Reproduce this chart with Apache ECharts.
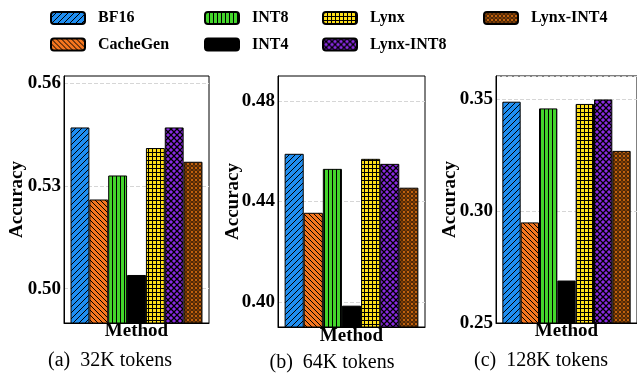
<!DOCTYPE html>
<html>
<head>
<meta charset="utf-8">
<script src="https://cdn.jsdelivr.net/npm/echarts@6/dist/echarts.min.js"></script>
<style>html,body{margin:0;padding:0;background:#fff;}#c{width:637px;height:375px;}</style>
</head>
<body>
<div id="c"></div>
<script>
// ---- data ----
const categories = ['Method'];
const methods = ['BF16', 'CacheGen', 'INT8', 'INT4', 'Lynx', 'Lynx-INT8', 'Lynx-INT4'];
// values per panel: [32K, 64K, 128K]
const BF16      = [0.547, 0.459, 0.349];
const CacheGen  = [0.526, 0.4355, 0.295];
const INT8      = [0.533, 0.453, 0.346];
const INT4      = [0.504, 0.3985, 0.269];
const Lynx      = [0.541, 0.457, 0.348];
const LynxINT8  = [0.547, 0.455, 0.350];
const LynxINT4  = [0.537, 0.4455, 0.327];
const seriesValues = [BF16, CacheGen, INT8, INT4, Lynx, LynxINT8, LynxINT4];
const captions = ['(a)  32K tokens', '(b)  64K tokens', '(c)  128K tokens'];
const yMins = [0.49, 0.39, 0.25];
const yMaxs = [0.562, 0.49, 0.3605];
const yIntervals = [0.01, 0.01, 0.05];
const yTickLabels = [['0.50', '0.53', '0.56'], ['0.40', '0.44', '0.48'], ['0.25', '0.30', '0.35']];

// ---- patterns ----
function pat(bg, size, draw) {
  const c = document.createElement('canvas');
  c.width = size; c.height = size;
  const ctx = c.getContext('2d');
  ctx.fillStyle = bg; ctx.fillRect(0, 0, size, size);
  ctx.strokeStyle = '#000'; ctx.fillStyle = '#000'; ctx.lineWidth = 1;
  draw(ctx, size);
  return { image: c, repeat: 'repeat' };
}
function diagUp(ctx, s) {
  ctx.beginPath();
  ctx.moveTo(-1, s + 1); ctx.lineTo(s + 1, -1);
  ctx.moveTo(-1, 1); ctx.lineTo(1, -1);
  ctx.moveTo(s - 1, s + 1); ctx.lineTo(s + 1, s - 1);
  ctx.stroke();
}
function diagDown(ctx, s) {
  ctx.beginPath();
  ctx.moveTo(-1, -1); ctx.lineTo(s + 1, s + 1);
  ctx.moveTo(s - 1, -1); ctx.lineTo(s + 1, 1);
  ctx.moveTo(-1, s - 1); ctx.lineTo(1, s + 1);
  ctx.stroke();
}
const fills = [
  pat('#1f8ef1', 6, (ctx, s) => diagUp(ctx, s)),
  pat('#f5761f', 5, (ctx, s) => diagDown(ctx, s)),
  pat('#44d62c', 4, (ctx, s) => { ctx.fillRect(0, 0, 1, s); }),
  '#000000',
  pat('#ffe01a', 4, (ctx, s) => { ctx.fillRect(0, 0, 1, s); ctx.fillRect(0, 0, s, 1); }),
  pat('#8a2be2', 6, (ctx, s) => { ctx.lineWidth = 1.3; diagUp(ctx, s); diagDown(ctx, s); }),
  pat('#c8650f', 4, (ctx, s) => { ctx.lineWidth = 0.8; ctx.beginPath(); ctx.arc(2, 2, 1.4, 0, Math.PI * 2); ctx.stroke(); })
];

const T = 'rgba(0,0,0,0)', G = '#d6d6d6';
// split line colour cycles so that only the labelled ticks get a grid line
const splitColors = [[T, G, T], [T, G, T, T], [G]];

const grids = [
  { left: 64, top: 76, width: 145, height: 247 },
  { left: 278, top: 76, width: 147, height: 251 },
  { left: 496, top: 76, width: 143, height: 247 }
];
const xNameGaps = [-1, 0, -1];
const yNameGaps = [37, 35.5, 36.5];
const font = 'Liberation Serif';

const xAxis = [], yAxis = [], series = [];
grids.forEach((g, i) => {
  g.show = true; g.borderColor = '#000'; g.borderWidth = 1; g.containLabel = false;
  xAxis.push({
    type: 'category', gridIndex: i, data: categories,
    name: 'Method', nameLocation: 'middle', nameGap: xNameGaps[i], nameMoveOverlap: false,
    nameTextStyle: { fontFamily: font, fontWeight: 'bold', fontSize: 19, color: '#000' },
    axisLabel: { show: false }, axisTick: { show: false },
    axisLine: { show: true, lineStyle: { color: '#000', width: 1 } }
  });
  const labels = yTickLabels[i];
  yAxis.push({
    type: 'value', gridIndex: i, min: yMins[i], max: yMaxs[i], interval: yIntervals[i],
    name: 'Accuracy', nameLocation: 'middle', nameGap: yNameGaps[i], nameMoveOverlap: false,
    nameTextStyle: { fontFamily: font, fontWeight: 'bold', fontSize: 19, color: '#000' },
    axisLine: { show: true, lineStyle: { color: '#000', width: 1 } },
    axisTick: { show: false },
    axisLabel: {
      margin: 3, fontFamily: font, fontWeight: 'bold', fontSize: 19, color: '#000',
      showMinLabel: true, showMaxLabel: true,
      formatter: v => {
        const t = v.toFixed(2);
        return (labels.indexOf(t) >= 0 && Math.abs(v - parseFloat(t)) < 1e-6) ? t : '';
      }
    },
    splitLine: { show: true, lineStyle: { color: splitColors[i], type: 'dashed', width: 1 } }
  });
  methods.forEach((m, k) => {
    series.push({
      name: m, type: 'bar', xAxisIndex: i, yAxisIndex: i,
      data: [seriesValues[k][i]],
      barGap: '0%', barCategoryGap: '9%',
      itemStyle: { color: fills[k], borderColor: '#000', borderWidth: 1 },
      emphasis: { disabled: true }, animation: false
    });
  });
});

const legendCols = [['BF16', 'CacheGen'], ['INT8', 'INT4'], ['Lynx', 'Lynx-INT8'], ['Lynx-INT4']];
const legendLefts = [50, 204, 322, 483];
const legend = legendCols.map((d, i) => ({
  data: d, orient: 'vertical', left: legendLefts[i], top: 10, padding: 0,
  itemWidth: 34, itemHeight: 12, itemGap: 10.5, selectedMode: false,
  textStyle: { fontFamily: font, fontWeight: 'bold', fontSize: 16, color: '#000', padding: [0, 0, 0, 8] }
}));

const capX = [110, 332, 541];
const capY = [361, 362.5, 361];
const graphic = captions.map((t, i) => ({
  type: 'text', x: capX[i], y: capY[i],
  style: { text: t, fontFamily: font, fontSize: 20, fill: '#000', textAlign: 'center', textVerticalAlign: 'middle' }
}));

const chart = echarts.init(document.getElementById('c'), null, { renderer: 'canvas' });
chart.setOption({ animation: false, backgroundColor: '#fff', grid: grids, xAxis, yAxis, series, legend, graphic });
</script>
</body>
</html>
